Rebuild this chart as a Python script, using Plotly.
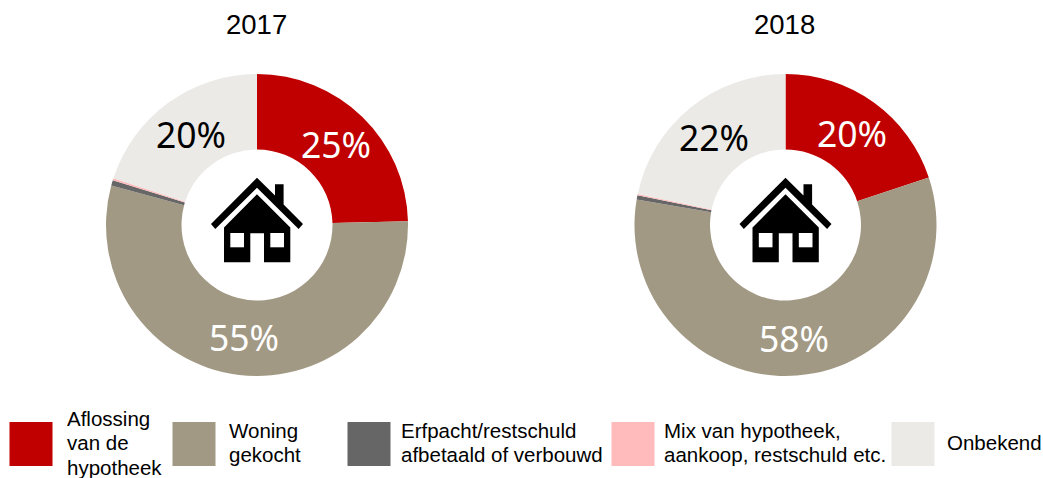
import math
import plotly.graph_objects as go

W, H = 1043, 478
YEARS = ["2017", "2018"]
CATEGORIES = ["Aflossing van de hypotheek", "Woning gekocht",
              "Erfpacht/restschuld afbetaald of verbouwd",
              "Mix van hypotheek, aankoop, restschuld etc.", "Onbekend"]
LEGEND_LINES = [["Aflossing", "van de", "hypotheek"], ["Woning", "gekocht"],
                ["Erfpacht/restschuld", "afbetaald of verbouwd"],
                ["Mix van hypotheek,", "aankoop, restschuld etc."], ["Onbekend"]]
VALUES_2017 = [24.6, 54.6, 0.6, 0.2, 20.0]
VALUES_2018 = [19.9, 57.8, 0.45, 0.15, 21.7]
LABELS_2017 = ["25%", "55%", "", "", "20%"]
LABELS_2018 = ["20%", "58%", "", "", "22%"]
COLORS = ["#C00000", "#A29984", "#666666", "#FFBBBB", "#EBEAE6"]
TEXT_COLORS = ["#FFFFFF", "#FFFFFF", "#FFFFFF", "#000000", "#000000"]

CENTERS = [257, 785.5]
CY, R = 225, 151
LABEL_FONT = "Noto Sans, sans-serif"
TEXT_FONT = "Liberation Sans, Arial, sans-serif"


def px(x):
    return x / W


def py(y):
    return 1 - y / H


def path(points):
    return "M " + " L ".join(f"{px(x):.5f},{py(y):.5f}" for x, y in points) + " Z"


fig = go.Figure()
shapes, annotations = [], []
for cx, vals, labs, year in zip(CENTERS, [VALUES_2017, VALUES_2018],
                                [LABELS_2017, LABELS_2018], YEARS):
    fig.add_trace(go.Pie(
        labels=CATEGORIES, values=vals, textinfo="none",
        hole=0.5, sort=False, direction="clockwise", rotation=0,
        marker=dict(colors=COLORS, line=dict(width=0)),
        domain=dict(x=[px(cx - R), px(cx + R)], y=[py(CY + R), py(CY - R)]),
        showlegend=False, name=year,
    ))
    # percentage labels sit on the mid-radius of their slice, derived from the values
    total, running = sum(vals), 0
    for v, lab, col in zip(vals, labs, TEXT_COLORS):
        mid = (running + v / 2) / total * 2 * math.pi
        running += v
        if lab:
            annotations.append(dict(
                text=lab, xref="paper", yref="paper",
                x=px(cx + 113 * math.sin(mid)), y=py(CY - 113 * math.cos(mid)),
                xanchor="center", yanchor="middle", showarrow=False,
                font=dict(family=LABEL_FONT, size=35.5, color=col)))


def house(cx):
    ox = cx - 256.7
    roof = [(256.7, 177.7), (274.7, 195.5), (274.7, 184.3), (283.3, 184.3),
            (283.3, 204.5), (302.7, 224), (298.3, 229), (256.7, 187.7),
            (215, 229), (210.7, 224)]
    body = [(256.7, 194.3), (290, 227.5), (290, 262.3), (263.7, 262.3),
            (263.7, 233.3), (250, 233.3), (250, 262.3), (223.7, 262.3),
            (223.7, 227.5)]
    win1 = [(230, 233), (243.7, 233), (243.7, 247.3), (230, 247.3)]
    win2 = [(270, 233), (283.7, 233), (283.7, 247.3), (270, 247.3)]
    for pts, col in [(roof, "#000000"), (body, "#000000"), (win1, "#FFFFFF"), (win2, "#FFFFFF")]:
        moved = [(x + ox, y) for x, y in pts]
        shapes.append(dict(type="path", xref="paper", yref="paper", path=path(moved),
                           fillcolor=col, line=dict(width=0), layer="above"))


for cx, year in zip(CENTERS, YEARS):
    house(cx)
    annotations.append(dict(text=year, xref="paper", yref="paper", x=px(cx) - 0.0008, y=py(24),
                            xanchor="center", yanchor="middle", showarrow=False,
                            font=dict(family=TEXT_FONT, size=27.5, color="#000000")))

SWATCH_X = [10, 173, 348, 612, 892]
TEXT_X = [66, 228, 400, 663, 946]
PITCH = 24.5
for sx, tx, col, lines in zip(SWATCH_X, TEXT_X, COLORS, LEGEND_LINES):
    shapes.append(dict(type="rect", xref="paper", yref="paper", x0=px(sx - 0.5), x1=px(sx + 42.5),
                       y0=py(466), y1=py(422), fillcolor=col, line=dict(width=0)))
    start = 442.5 - PITCH * (len(lines) - 1) / 2
    for i, line in enumerate(lines):
        annotations.append(dict(text=line, xref="paper", yref="paper", x=px(tx),
                                y=py(start + i * PITCH), xanchor="left", yanchor="middle",
                                align="left", showarrow=False, borderpad=0,
                                font=dict(family=TEXT_FONT, size=20.5, color="#000000")))

fig.update_layout(width=W, height=H, margin=dict(l=0, r=0, t=0, b=0, autoexpand=False),
                  paper_bgcolor="#FFFFFF", shapes=shapes, annotations=annotations)
fig.write_html("out.html", config=dict(displayModeBar=False),
               post_script="document.body.style.margin='0';")
